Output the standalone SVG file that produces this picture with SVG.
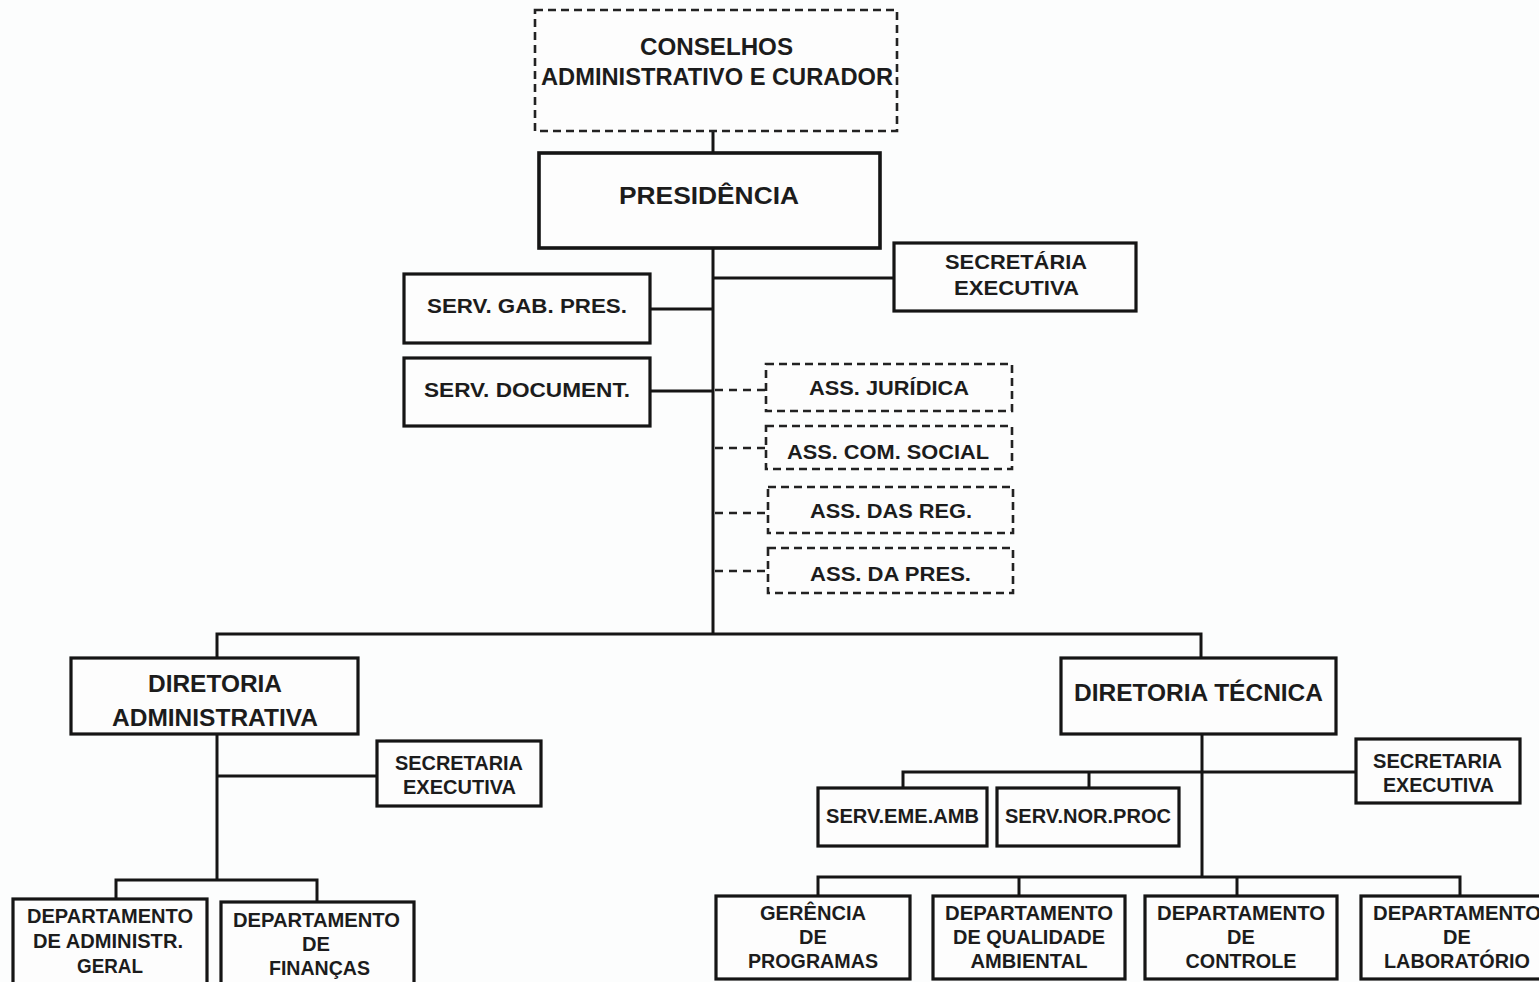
<svg xmlns="http://www.w3.org/2000/svg" width="1539" height="982" viewBox="0 0 1539 982">
<style>
  .bg{fill:#fcfdfd}
  .box{fill:#fdfdfd;stroke:#151515;stroke-width:3.2}
  .dbox{fill:#fdfdfd;stroke:#222;stroke-width:2.6;stroke-dasharray:8 5}
  .ln{stroke:#151515;stroke-width:3;fill:none}
  .dln{stroke:#222;stroke-width:2.6;fill:none;stroke-dasharray:8 6}
  text{font-family:"Liberation Sans",Arial,sans-serif;font-weight:bold;fill:#1c1c1c;text-anchor:middle}
  .t24{font-size:24px}
  .t20{font-size:20px}
</style>
<rect class="bg" x="0" y="0" width="1539" height="982"/>

<g id="connectors">
  <line class="ln" x1="713" y1="131" x2="713" y2="153"/>
  <line class="ln" x1="713" y1="249" x2="713" y2="634"/>
  <line class="ln" x1="713" y1="278" x2="894" y2="278"/>
  <line class="ln" x1="650" y1="309" x2="713" y2="309"/>
  <line class="ln" x1="650" y1="391" x2="713" y2="391"/>
  <line class="dln" x1="715" y1="390" x2="766" y2="390"/>
  <line class="dln" x1="715" y1="448" x2="766" y2="448"/>
  <line class="dln" x1="715" y1="513" x2="767" y2="513"/>
  <line class="dln" x1="715" y1="571" x2="767" y2="571"/>
  <polyline class="ln" points="217,658 217,634 1201,634 1201,658"/>
  <line class="ln" x1="217" y1="734" x2="217" y2="880"/>
  <line class="ln" x1="217" y1="776" x2="377" y2="776"/>
  <polyline class="ln" points="116,899 116,880 317,880 317,902"/>
  <line class="ln" x1="1202" y1="734" x2="1202" y2="877"/>
  <polyline class="ln" points="903,788 903,772 1356,772"/>
  <line class="ln" x1="1089" y1="772" x2="1089" y2="788"/>
  <polyline class="ln" points="818,896 818,877 1460,877 1460,896"/>
  <line class="ln" x1="1019" y1="877" x2="1019" y2="896"/>
  <line class="ln" x1="1237" y1="877" x2="1237" y2="896"/>
</g>

<g id="conselhos">
  <rect class="dbox" x="535" y="10" width="362" height="121"/>
  <text class="t24" x="716.5" y="55" textLength="153" lengthAdjust="spacingAndGlyphs">CONSELHOS</text>
  <text class="t24" x="717" y="85" textLength="352" lengthAdjust="spacingAndGlyphs">ADMINISTRATIVO E CURADOR</text>
</g>

<g id="presidencia">
  <rect class="box" x="539" y="153" width="341" height="95" style="stroke-width:3.6"/>
  <text class="t24" x="709" y="204" textLength="180" lengthAdjust="spacingAndGlyphs">PRESIDÊNCIA</text>
</g>

<g id="secretaria-executiva-pres">
  <rect class="box" x="894" y="243" width="242" height="68"/>
  <text class="t20" x="1016" y="269" textLength="142" lengthAdjust="spacingAndGlyphs">SECRETÁRIA</text>
  <text class="t20" x="1016.5" y="295" textLength="125" lengthAdjust="spacingAndGlyphs">EXECUTIVA</text>
</g>

<g id="serv-gab-pres">
  <rect class="box" x="404" y="274" width="246" height="69"/>
  <text class="t20" x="527" y="313" textLength="200" lengthAdjust="spacingAndGlyphs">SERV. GAB. PRES.</text>
</g>

<g id="serv-document">
  <rect class="box" x="404" y="358" width="246" height="68"/>
  <text class="t20" x="527" y="397" textLength="206" lengthAdjust="spacingAndGlyphs">SERV. DOCUMENT.</text>
</g>

<g id="ass-juridica">
  <rect class="dbox" x="766" y="364" width="246" height="47"/>
  <text class="t20" x="889" y="395" textLength="160" lengthAdjust="spacingAndGlyphs">ASS. JURÍDICA</text>
</g>
<g id="ass-com-social">
  <rect class="dbox" x="766" y="426" width="246" height="43"/>
  <text class="t20" x="888" y="459" textLength="202" lengthAdjust="spacingAndGlyphs">ASS. COM. SOCIAL</text>
</g>
<g id="ass-das-reg">
  <rect class="dbox" x="768" y="487" width="245" height="46"/>
  <text class="t20" x="891" y="518" textLength="162" lengthAdjust="spacingAndGlyphs">ASS. DAS REG.</text>
</g>
<g id="ass-da-pres">
  <rect class="dbox" x="768" y="548" width="245" height="45"/>
  <text class="t20" x="890.5" y="581" textLength="161" lengthAdjust="spacingAndGlyphs">ASS. DA PRES.</text>
</g>

<g id="diretoria-administrativa">
  <rect class="box" x="71" y="658" width="287" height="76"/>
  <text class="t24" x="215" y="692" textLength="134" lengthAdjust="spacingAndGlyphs">DIRETORIA</text>
  <text class="t24" x="215" y="726" textLength="206" lengthAdjust="spacingAndGlyphs">ADMINISTRATIVA</text>
</g>

<g id="secretaria-executiva-adm">
  <rect class="box" x="377" y="741" width="164" height="65"/>
  <text class="t20" x="459" y="770" textLength="128" lengthAdjust="spacingAndGlyphs">SECRETARIA</text>
  <text class="t20" x="459.5" y="794" textLength="113" lengthAdjust="spacingAndGlyphs">EXECUTIVA</text>
</g>

<g id="dep-administr-geral">
  <rect class="box" x="13" y="899" width="194" height="100"/>
  <text class="t20" x="110" y="923" textLength="166" lengthAdjust="spacingAndGlyphs">DEPARTAMENTO</text>
  <text class="t20" x="108" y="948" textLength="150" lengthAdjust="spacingAndGlyphs">DE ADMINISTR.</text>
  <text class="t20" x="110" y="973" textLength="66" lengthAdjust="spacingAndGlyphs">GERAL</text>
</g>

<g id="dep-financas">
  <rect class="box" x="221" y="902" width="193" height="100"/>
  <text class="t20" x="316.5" y="927" textLength="167" lengthAdjust="spacingAndGlyphs">DEPARTAMENTO</text>
  <text class="t20" x="316" y="951" textLength="28" lengthAdjust="spacingAndGlyphs">DE</text>
  <text class="t20" x="319.5" y="975" textLength="101" lengthAdjust="spacingAndGlyphs">FINANÇAS</text>
</g>

<g id="diretoria-tecnica">
  <rect class="box" x="1061" y="658" width="275" height="76"/>
  <text class="t24" x="1198.5" y="701" textLength="249" lengthAdjust="spacingAndGlyphs">DIRETORIA TÉCNICA</text>
</g>

<g id="secretaria-executiva-tec">
  <rect class="box" x="1356" y="739" width="164" height="64"/>
  <text class="t20" x="1437.5" y="768" textLength="129" lengthAdjust="spacingAndGlyphs">SECRETARIA</text>
  <text class="t20" x="1438.5" y="792" textLength="111" lengthAdjust="spacingAndGlyphs">EXECUTIVA</text>
</g>

<g id="serv-eme-amb">
  <rect class="box" x="818" y="788" width="169" height="58"/>
  <text class="t20" x="902.5" y="823" textLength="153" lengthAdjust="spacingAndGlyphs">SERV.EME.AMB</text>
</g>

<g id="serv-nor-proc">
  <rect class="box" x="997" y="788" width="182" height="58"/>
  <text class="t20" x="1088" y="823" textLength="166" lengthAdjust="spacingAndGlyphs">SERV.NOR.PROC</text>
</g>

<g id="gerencia-programas">
  <rect class="box" x="716" y="896" width="194" height="83"/>
  <text class="t20" x="813" y="920" textLength="106" lengthAdjust="spacingAndGlyphs">GERÊNCIA</text>
  <text class="t20" x="813" y="944">DE</text>
  <text class="t20" x="813" y="968" textLength="130" lengthAdjust="spacingAndGlyphs">PROGRAMAS</text>
</g>

<g id="dep-qualidade-ambiental">
  <rect class="box" x="933" y="896" width="192" height="83"/>
  <text class="t20" x="1029" y="920" textLength="168" lengthAdjust="spacingAndGlyphs">DEPARTAMENTO</text>
  <text class="t20" x="1029" y="944" textLength="152" lengthAdjust="spacingAndGlyphs">DE QUALIDADE</text>
  <text class="t20" x="1029" y="968" textLength="117" lengthAdjust="spacingAndGlyphs">AMBIENTAL</text>
</g>

<g id="dep-controle">
  <rect class="box" x="1145" y="896" width="192" height="83"/>
  <text class="t20" x="1241" y="920" textLength="168" lengthAdjust="spacingAndGlyphs">DEPARTAMENTO</text>
  <text class="t20" x="1241" y="944">DE</text>
  <text class="t20" x="1241" y="968" textLength="111" lengthAdjust="spacingAndGlyphs">CONTROLE</text>
</g>

<g id="dep-laboratorio">
  <rect class="box" x="1361" y="896" width="200" height="83"/>
  <text class="t20" x="1457" y="920" textLength="168" lengthAdjust="spacingAndGlyphs">DEPARTAMENTO</text>
  <text class="t20" x="1457" y="944">DE</text>
  <text class="t20" x="1457" y="968" textLength="146" lengthAdjust="spacingAndGlyphs">LABORATÓRIO</text>
</g>
</svg>
